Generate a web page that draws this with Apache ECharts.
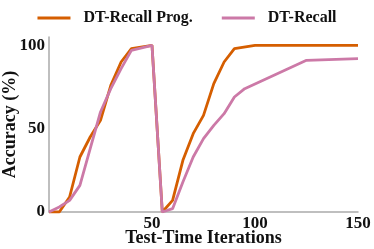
<!DOCTYPE html>
<html><head><meta charset="utf-8">
<script src="https://cdn.jsdelivr.net/npm/echarts@6/dist/echarts.min.js"></script>
<style>html,body{margin:0;padding:0;background:#fff}#c{width:374px;height:249px}</style>
</head><body><div id="c"></div>
<script>
const seriesNames = ['DT-Recall Prog.', 'DT-Recall'];
const progX = [0, 5, 10, 15, 20, 25, 30, 35, 40, 50, 55, 60, 65, 70, 75, 80, 85, 90, 100, 150];
const progY = [0, 0, 9, 33, 45, 55, 76, 90, 98, 100, 0, 7, 31, 47, 58, 77, 90, 98, 100, 100];
const recX = [0, 5, 10, 15, 20, 25, 30, 35, 40, 50, 55, 60, 65, 70, 75, 80, 85, 90, 95, 125, 150];
const recY = [0, 3, 7, 16, 38, 60, 74, 86, 97, 100, 0, 2, 18, 33, 44, 52, 59, 69, 74, 91, 92];
const xTicks = [50, 100, 150];
const yTicks = [0, 50, 100];

const font = '"Liberation Serif", "Times New Roman", serif';
const chart = echarts.init(document.getElementById('c'), null, {renderer: 'canvas'});
chart.setOption({
  animation: false,
  color: ['#D55E00', '#CC79A7'],
  legend: {
    top: 5, left: 'center',
    icon: 'rect', itemWidth: 33, itemHeight: 3, itemGap: 29,
    textStyle: {fontFamily: font, fontWeight: 'bold', fontSize: 16, color: '#111', padding: [0, 0, 0, 8]},
    data: seriesNames
  },
  grid: {left: 49, right: 16, top: 37, bottom: 37, containLabel: false, outerBoundsMode: 'none'},
  xAxis: {
    type: 'value', min: 0, max: 150, interval: 50,
    name: 'Test-Time Iterations', nameLocation: 'middle', nameGap: 17, nameMoveOverlap: false,
    nameTextStyle: {fontFamily: font, fontWeight: 'bold', fontSize: 18, color: '#111'},
    axisLine: {lineStyle: {color: '#aaa', width: 1.5}},
    axisTick: {show: false}, splitLine: {show: false},
    axisLabel: {margin: 3, fontFamily: font, fontWeight: 'bold', fontSize: 17, color: '#111',
      formatter: v => xTicks.includes(v) ? String(v) : ''}
  },
  yAxis: {
    type: 'value', min: 0, max: 105, interval: 50,
    name: 'Accuracy (%)', nameLocation: 'middle', nameGap: 30, nameRotate: 90, nameMoveOverlap: false,
    nameTextStyle: {fontFamily: font, fontWeight: 'bold', fontSize: 18, color: '#111'},
    axisLine: {show: true, lineStyle: {color: '#aaa', width: 1.5}},
    axisTick: {show: false}, splitLine: {show: false},
    axisLabel: {margin: 4, fontFamily: font, fontWeight: 'bold', fontSize: 17, color: '#111',
      formatter: v => yTicks.includes(v) ? String(v) : ''}
  },
  series: [
    {name: seriesNames[0], type: 'line', showSymbol: false, lineStyle: {width: 2.8},
     data: progX.map((x, i) => [x, progY[i]]), z: 2},
    {name: seriesNames[1], type: 'line', showSymbol: false, lineStyle: {width: 2.8},
     data: recX.map((x, i) => [x, recY[i]]), z: 3}
  ]
});
</script></body></html>
